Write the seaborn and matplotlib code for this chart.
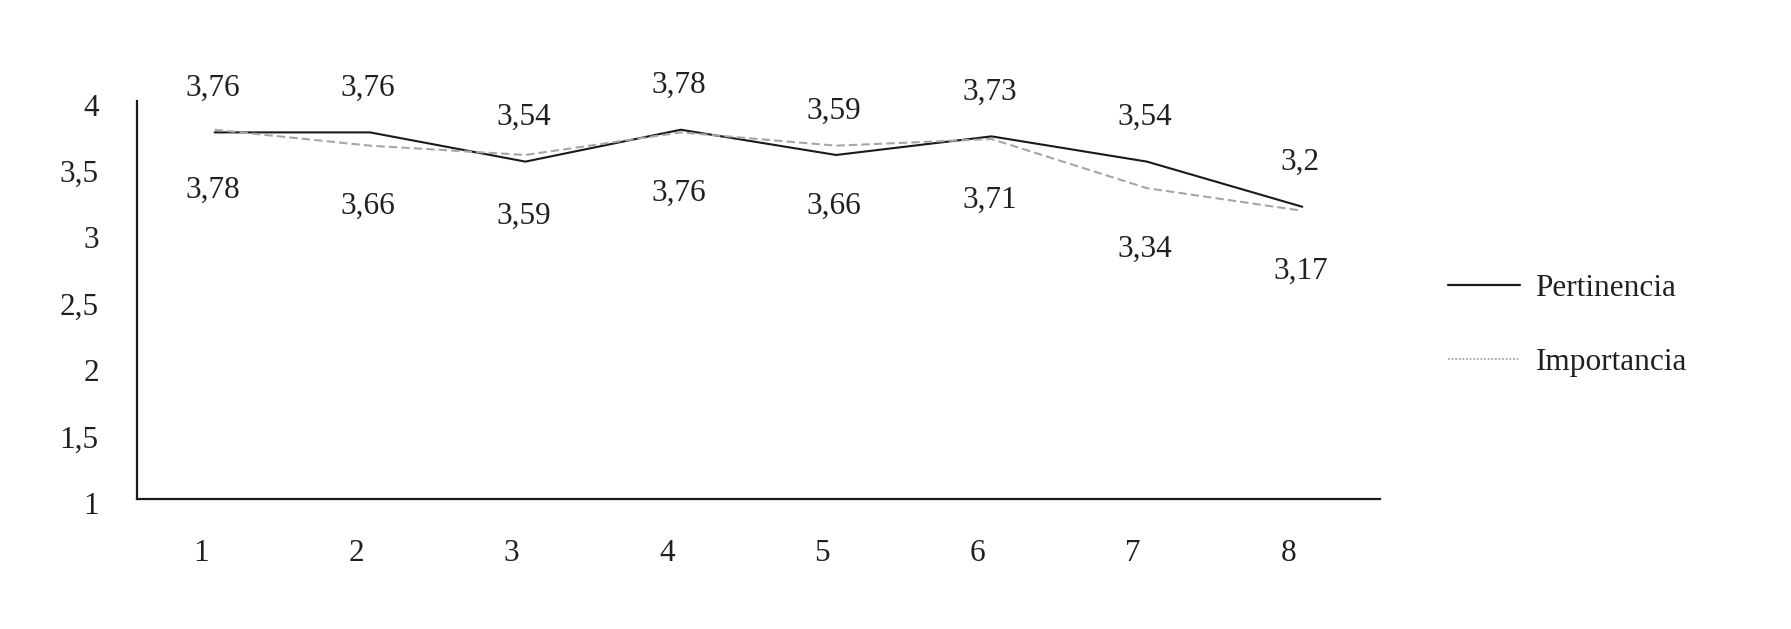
import matplotlib
matplotlib.use("Agg")
import matplotlib.pyplot as plt
import matplotlib.transforms as mtransforms
from matplotlib.lines import Line2D
import seaborn as sns
import pandas as pd

# ---- data ----
categories = [1, 2, 3, 4, 5, 6, 7, 8]
pertinencia = [3.76, 3.76, 3.54, 3.78, 3.59, 3.73, 3.54, 3.20]
importancia = [3.78, 3.66, 3.59, 3.76, 3.66, 3.71, 3.34, 3.17]
y_ticks = [1, 1.5, 2, 2.5, 3, 3.5, 4]
series_names = ["Pertinencia", "Importancia"]

def fmt(v):
    s = ("%.2f" % v).rstrip("0").rstrip(".")
    return s.replace(".", ",")

sns.set_style("white")
plt.rcParams["font.family"] = ["Liberation Serif", "DejaVu Serif"]
FS = 22.5
TXT = "#231f20"

fig = plt.figure(figsize=(17.91, 6.29), dpi=100)
ax = fig.add_axes([0.0765, 0.2067, 0.7705 - 0.0765, 0.8402 - 0.2067])

df = pd.DataFrame({"x": categories, "p": pertinencia, "i": importancia})
sns.lineplot(data=df, x="x", y="p", ax=ax, color="#1a1a1a", linewidth=1.5)
sns.lineplot(data=df, x="x", y="i", ax=ax, color="#a6a6a6", linewidth=1.5,
             linestyle=(0, (4, 2)))

ax.set_xlim(0.5, 8.5)
ax.set_ylim(1, 4)
ax.set_xticks(categories)
ax.set_xticklabels([str(c) for c in categories])
ax.set_yticks(y_ticks)
ax.set_yticklabels([fmt(t) for t in y_ticks])
ax.set_xlabel("")
ax.set_ylabel("")
ax.tick_params(axis="both", length=0, labelsize=FS, colors=TXT)
ax.tick_params(axis="y", pad=27.5)
ax.tick_params(axis="x", pad=29)

for side in ["top", "right"]:
    ax.spines[side].set_visible(False)
for side in ["left", "bottom"]:
    ax.spines[side].set_color("#1a1a1a")
    ax.spines[side].set_linewidth(1.6)

# shift tick labels a little like the reference
offx = mtransforms.ScaledTranslation(-14 / 100, 0, fig.dpi_scale_trans)
for lab in ax.get_xticklabels():
    lab.set_transform(lab.get_transform() + offx)
offy = mtransforms.ScaledTranslation(0, -4 / 100, fig.dpi_scale_trans)
for lab in ax.get_yticklabels():
    lab.set_transform(lab.get_transform() + offy)

# data labels
for x, v in zip(categories, pertinencia):
    ax.annotate(fmt(v), (x, v), xytext=(-2, 44), textcoords="offset pixels",
                ha="center", va="center", fontsize=FS, color=TXT)
for x, v in zip(categories, importancia):
    ax.annotate(fmt(v), (x, v), xytext=(-2, -61), textcoords="offset pixels",
                ha="center", va="center", fontsize=FS, color=TXT)

handles = [Line2D([], [], color="#1a1a1a", linewidth=1.6),
           Line2D([], [], color="#a6a6a6", linewidth=1.3, linestyle=(0, (1, 1)))]
fig.legend(handles, series_names, loc="center left",
           bbox_to_anchor=(0.8085, 0.483), frameon=False, fontsize=FS,
           handlelength=2.3, handletextpad=0.5, labelspacing=1.45,
           borderpad=0, borderaxespad=0, labelcolor=TXT)

fig.savefig("out.png", dpi=100, facecolor="white")
